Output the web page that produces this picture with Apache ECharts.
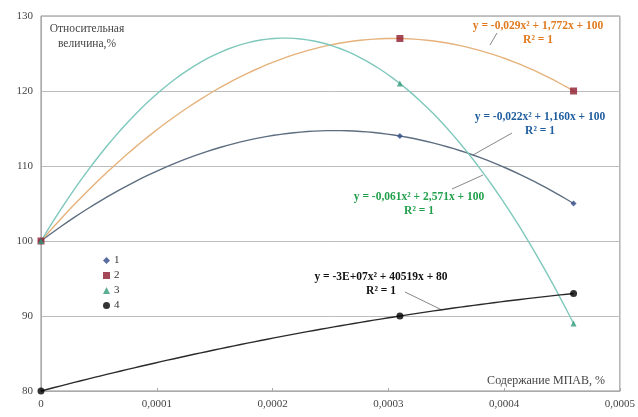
<!DOCTYPE html>
<html>
<head>
<meta charset="utf-8">
<script src="https://cdn.jsdelivr.net/npm/echarts@6/dist/echarts.min.js"></script>
<style>html,body{margin:0;padding:0;background:#fff}#c{width:638px;height:417px}</style>
</head>
<body>
<div id="c"></div>
<script>
// Data
const xValues = [0, 0.00031, 0.00046];
const series1 = [100, 114, 105];
const series2 = [100, 127, 120];
const series3 = [100, 121, 89];
const series4 = [80, 90, 93];
const seriesNames = ['1', '2', '3', '4'];
const yTicks = [80, 90, 100, 110, 120, 130];
const xTicks = [0, 0.0001, 0.0002, 0.0003, 0.0004, 0.0005];
const equations = [
  'y = -0,022x\u00B2 + 1,160x + 100',
  'y = -0,029x\u00B2 + 1,772x + 100',
  'y = -0,061x\u00B2 + 2,571x + 100',
  'y = -3E+07x\u00B2 + 40519x + 80'
];

const allSeries = [series1, series2, series3, series4];
const markerColors = ['#2f4a86', '#8e1b2e', '#2f9a78', '#000000'];
const curveColors = ['#5d6e80', '#e6b27c', '#7ec8bc', '#2a2a2a'];
const labelColors = ['#1f5d9e', '#e07a1f', '#23a04e', '#111111'];
const symbols = ['diamond', 'rect', 'triangle', 'circle'];

// Quadratic trend (Excel-like polynomial fit, order 2) computed from the data
function quadFit(xs, ys) {
  let n = xs.length, s = [0,0,0,0,0], t = [0,0,0];
  for (let i = 0; i < n; i++) {
    const x = xs[i], y = ys[i];
    for (let k = 0; k < 5; k++) s[k] += Math.pow(x, k);
    for (let k = 0; k < 3; k++) t[k] += y * Math.pow(x, k);
  }
  const M = [[s[4], s[3], s[2], t[2]], [s[3], s[2], s[1], t[1]], [s[2], s[1], s[0], t[0]]];
  for (let i = 0; i < 3; i++) {
    let p = i;
    for (let r = i + 1; r < 3; r++) if (Math.abs(M[r][i]) > Math.abs(M[p][i])) p = r;
    [M[i], M[p]] = [M[p], M[i]];
    for (let r = 0; r < 3; r++) {
      if (r === i) continue;
      const f = M[r][i] / M[i][i];
      for (let c = i; c < 4; c++) M[r][c] -= f * M[i][c];
    }
  }
  return [M[0][3] / M[0][0], M[1][3] / M[1][1], M[2][3] / M[2][2]];
}

const fits = allSeries.map(ys => quadFit(xValues.map(x => x * 1e5), ys));

const chart = echarts.init(document.getElementById('c'));
const serif = '"Liberation Serif", "DejaVu Serif", serif';

const seriesList = [];
allSeries.forEach((ys, i) => {
  const fit = fits[i];
  seriesList.push({
    type: 'custom',
    name: 'trend' + i,
    silent: true,
    z: 2,
    data: [[xValues[0], ys[0]]],
    renderItem: function (params, api) {
      const pts = [];
      const x0 = xValues[0] * 1e5, x1 = xValues[xValues.length - 1] * 1e5;
      const steps = 80;
      for (let k = 0; k <= steps; k++) {
        const u = x0 + (x1 - x0) * k / steps;
        const v = fit[0] * u * u + fit[1] * u + fit[2];
        pts.push(api.coord([u / 1e5, v]));
      }
      return {
        type: 'polyline',
        shape: { points: pts, smooth: 0 },
        style: { stroke: curveColors[i], lineWidth: 1.4, fill: null }
      };
    }
  });
});
allSeries.forEach((ys, i) => {
  seriesList.push({
    type: 'scatter',
    name: seriesNames[i],
    symbol: symbols[i],
    symbolSize: i === 1 ? 7 : (i === 3 ? 7 : 6),
    itemStyle: { color: markerColors[i] },
    z: 5,
    data: xValues.map((x, j) => [x, ys[j]])
  });
});

function eqText(i, cx, top) {
  return { type: 'text', x: cx, y: top, z: 10,
    style: { text: equations[i] + '\nR\u00B2 = 1', fontFamily: serif, fontWeight: 'bold', fontSize: 11.5,
      fill: labelColors[i], align: 'center', verticalAlign: 'top', lineHeight: 14 } };
}

chart.setOption({
  animation: false,
  backgroundColor: '#fff',
  grid: { left: 41, right: 17, top: 16, bottom: 26, show: true, borderColor: '#8c8c8c', borderWidth: 1 },
  legend: {
    orient: 'vertical',
    left: 98,
    top: 250,
    itemGap: 4,
    itemWidth: 7,
    itemHeight: 7,
    data: seriesNames,
    textStyle: { fontFamily: serif, fontSize: 11, color: '#333', padding: [0, 0, 0, -1] }
  },
  xAxis: {
    type: 'value',
    min: xTicks[0],
    max: xTicks[xTicks.length - 1],
    interval: 0.0001,
    axisLine: { show: true, lineStyle: { color: '#aaa' } },
    axisTick: { show: true, length: 3, inside: true, lineStyle: { color: '#aaa' } },
    splitLine: { show: false },
    axisLabel: {
      margin: 8,
      fontFamily: serif, fontSize: 11, color: '#444',
      formatter: v => v === 0 ? '0' : v.toFixed(4).replace('.', ',')
    }
  },
  yAxis: {
    type: 'value',
    min: yTicks[0],
    max: yTicks[yTicks.length - 1],
    interval: 10,
    axisLine: { show: true, lineStyle: { color: '#aaa' } },
    axisTick: { show: false },
    splitLine: { show: true, lineStyle: { color: '#bdbdbd', width: 1 } },
    axisLabel: { margin: 8, fontFamily: serif, fontSize: 11, color: '#444' }
  },
  graphic: [
    { type: 'text', x: 87, y: 21, style: { text: 'Относительная\nвеличина,%', fontFamily: serif, fontSize: 11.5, fill: '#444', align: 'center', verticalAlign: 'top', lineHeight: 15 } },
    { type: 'text', x: 605, y: 375, style: { text: 'Содержание МПАВ, %', fontFamily: serif, fontSize: 12, fill: '#444', align: 'right', verticalAlign: 'top' } },
    eqText(1, 538, 19),
    eqText(0, 540, 110),
    eqText(2, 419, 190),
    eqText(3, 381, 270),
    // leader lines
    { type: 'line', shape: { x1: 497, y1: 33, x2: 490, y2: 45 }, style: { stroke: '#888', lineWidth: 1 } },
    { type: 'line', shape: { x1: 512, y1: 133, x2: 473, y2: 155 }, style: { stroke: '#888', lineWidth: 1 } },
    { type: 'line', shape: { x1: 452, y1: 189, x2: 483, y2: 175 }, style: { stroke: '#888', lineWidth: 1 } },
    { type: 'line', shape: { x1: 405, y1: 292, x2: 442, y2: 310 }, style: { stroke: '#888', lineWidth: 1 } }
  ],
  series: seriesList
});
</script>
</body>
</html>
